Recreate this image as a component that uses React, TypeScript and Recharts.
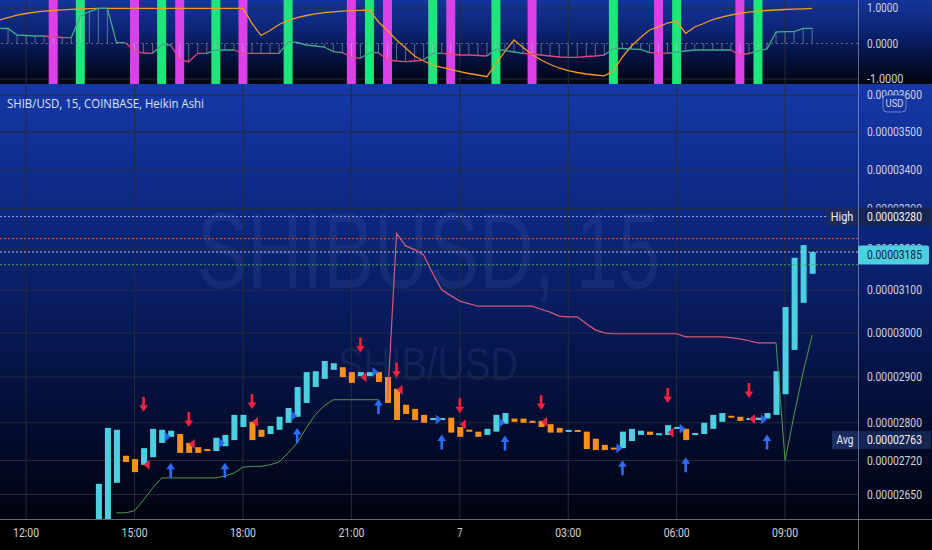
import React from 'react';
import {
  ComposedChart, Bar, Line, Scatter, XAxis, YAxis, CartesianGrid, ReferenceLine, Cell,
} from 'recharts';

// bar index 0 = 14:00 (15 minute bars)
const TIME_TICKS = [-8, 4, 16, 28, 40, 52, 64, 76];
const TIME_LABELS = ['12:00', '15:00', '18:00', '21:00', '7', '03:00', '06:00', '09:00'];

// price in 1e-8 USD
const PRICE_TICKS = [3600, 3500, 3400, 3300, 3200, 3100, 3000, 2900, 2800, 2720, 2650];
const MARK_PRICES = [3280, 3185, 2763];
const MARK_TAGS = ['High', '', 'Avg'];
const LEVEL_PRICES = [3280, 3225, 3192, 3161];
const LEVEL_COLORS = ['#8ea3e2', '#d9553a', '#b6c6f2', '#3fae5a'];

// Heikin Ashi bodies, bars 0..79
const HA_OPEN = [
  2590, 2590, 2674, 2730, 2723, 2711, 2727, 2757, 2770, 2776,
  2757, 2748, 2743, 2740, 2750, 2763, 2791, 2802, 2785, 2776,
  2785, 2800, 2813, 2843, 2878, 2896, 2916, 2922, 2911, 2902,
  2902, 2911, 2900, 2874, 2839, 2830, 2817, 2807, 2807, 2811,
  2791, 2784, 2781, 2774, 2781, 2798, 2809, 2809, 2804, 2804,
  2797, 2789, 2781, 2784, 2781, 2766, 2753, 2746, 2746, 2761,
  2774, 2781, 2774, 2774, 2787, 2787, 2775, 2776, 2787, 2802,
  2814, 2813, 2807, 2806, 2809, 2817, 2862, 2961, 3070, 3139,
];
const HA_CLOSE = [
  2672, 2789, 2785, 2717, 2696, 2746, 2787, 2785, 2783, 2736,
  2736, 2736, 2741, 2768, 2774, 2817, 2817, 2763, 2770, 2793,
  2813, 2832, 2878, 2911, 2913, 2936, 2931, 2900, 2887, 2911,
  2911, 2889, 2843, 2806, 2819, 2806, 2800, 2809, 2809, 2779,
  2770, 2782, 2770, 2787, 2817, 2821, 2802, 2800, 2800, 2791,
  2779, 2779, 2784, 2781, 2744, 2742, 2742, 2744, 2781, 2787,
  2783, 2774, 2777, 2795, 2791, 2763, 2777, 2800, 2817, 2821,
  2812, 2804, 2809, 2811, 2821, 2913, 3060, 3178, 3209, 3192,
];

// trailing stop line
const SUPPORT_FROM = 2;
const SUPPORT = [
  2613, 2613, 2617, 2639, 2663, 2684, 2684, 2684, 2684, 2684,
  2684, 2684, 2688, 2694, 2706, 2708, 2708, 2711, 2717, 2736,
  2757, 2789, 2817, 2837, 2850, 2850, 2850, 2850, 2850, 2850,
];
const RESIST_FROM = 32;
const RESIST = [
  2850, 3238, 3207, 3198, 3185, 3140, 3101, 3087, 3074, 3068,
  3062, 3062, 3062, 3062, 3062, 3062, 3062, 3055, 3048, 3039,
  3037, 3037, 3021, 3007, 3000, 2998, 2998, 2998, 2998, 2998,
  2998, 2998, 2998, 2991, 2991, 2991, 2991, 2991, 2989, 2986,
  2982, 2977, 2977, 2977,
];
const SUPPORT2_FROM = 75;
const SUPPORT2 = [2977, 2720, 2817, 2911, 2995];

// signals
const SELL_T = [5, 10, 17, 29, 33, 40, 49, 63, 72];
const SELL_ARROW = [2840, 2807, 2846, 2972, 2915, 2837, 2844, 2859, 2870];
const SELL_MARK = [2711, 2755, 2802, 2900, 2872, 2797, 2802, 2779, 2808];
const BUY_T = [8, 14, 22, 31, 38, 45, 58, 65, 74];
const BUY_ARROW = [2700, 2700, 2773, 2835, 2759, 2757, 2705, 2711, 2759];
const BUY_MARK = [2770, 2757, 2815, 2911, 2807, 2800, 2746, 2787, 2807];

// oscillator pane, bars -11..79
const OSC_FROM = -11;
const OSC = [
  0.428, 0.423, 0.239, 0.225, 0.211, 0.211, 0.183, 0.169, 0.163, 0.775,
  0.901, 0.992, 0.992, 0.023, 0.023, -0.211, -0.268, -0.276, -0.042, -0.042,
  -0.465, -0.513, -0.276, -0.276, -0.183, -0.183, -0.183, -0.276, -0.276, -0.276,
  -0.276, -0.276, 0.051, 0.028, -0.042, -0.070, -0.099, -0.231, -0.259, -0.380,
  -0.417, -0.259, -0.259, -0.465, -0.493, -0.513, -0.493, -0.465, -0.276, -0.276,
  -0.296, -0.324, -0.324, -0.338, -0.352, -0.163, -0.197, -0.239, -0.276, -0.296,
  -0.324, -0.352, -0.380, -0.389, -0.389, -0.366, -0.352, -0.324, -0.135, -0.141,
  -0.155, -0.163, -0.259, -0.268, -0.276, -0.239, -0.211, -0.183, -0.183, -0.183,
  -0.183, -0.183, -0.324, -0.282, -0.211, -0.155, 0.324, 0.332, 0.332, 0.428,
  0.428,
];
const TREND = [
  0.656, 0.732, 0.797, 0.845, 0.882, 0.910, 0.930, 0.946, 0.961, 0.972,
  0.983, 0.989, 0.992, 0.992, 0.992, 0.992, 0.992, 0.992, 0.992, 0.992,
  0.992, 0.992, 0.992, 0.992, 0.992, 0.992, 0.992, 0.992, 0.566, 0.225,
  0.366, 0.535, 0.654, 0.732, 0.789, 0.837, 0.870, 0.893, 0.910, 0.924,
  0.935, 0.944, 0.606, 0.366, 0.099, -0.127, -0.352, -0.493, -0.600, -0.670,
  -0.732, -0.794, -0.845, -0.887, -0.935, -0.577, -0.220, 0.099, -0.113, -0.310,
  -0.465, -0.592, -0.690, -0.761, -0.817, -0.859, -0.887, -0.910, -0.769, -0.380,
  -0.070, 0.166, 0.380, 0.470, 0.577, 0.634, 0.287, 0.465, 0.563, 0.676,
  0.746, 0.803, 0.851, 0.882, 0.910, 0.930, 0.944, 0.958, 0.966, 0.977,
  0.992,
];
const MAGENTA_T = [-5, 4, 9, 16, 28, 32, 39, 48, 62, 71];
const GREEN_T = [-2, 7, 13, 21, 30, 37, 44, 57, 64, 73];

const W = 932;
const TOP_H = 84;
const MAIN_H = 466;
const AXIS_W = 74;
const X_DOMAIN = [-10.89, 84.07];
const PRICE_DOMAIN = [2600.7, 3631.3];
const TOP_DOMAIN = [-1.1408, 1.2254];

const CYAN = '#4ccfe0';
const ORANGE = '#f7901c';
const GRID = '#272c3a';
const AXIS_TEXT = '#d1d4dc';
const AXIS_FONT = 'Roboto, sans-serif';

const fmtPrice = (v: number) => (v * 1e-8).toFixed(8);

const mainData = HA_OPEN.map((o, i) => {
  const c = HA_CLOSE[i];
  let support: number | null = null;
  if (i >= SUPPORT_FROM && i < SUPPORT_FROM + SUPPORT.length) support = SUPPORT[i - SUPPORT_FROM];
  if (i >= SUPPORT2_FROM && i < SUPPORT2_FROM + SUPPORT2.length) support = SUPPORT2[i - SUPPORT2_FROM];
  const resist = i >= RESIST_FROM && i < RESIST_FROM + RESIST.length ? RESIST[i - RESIST_FROM] : null;
  return { t: i, body: [Math.min(o, c), Math.max(o, c)], up: c >= o, support, resist };
});

const sellArrows = SELL_T.map((t, i) => ({ t, p: SELL_ARROW[i] }));
const sellMarks = SELL_T.map((t, i) => ({ t, p: SELL_MARK[i] }));
const buyArrows = BUY_T.map((t, i) => ({ t, p: BUY_ARROW[i] }));
const buyMarks = BUY_T.map((t, i) => ({ t, p: BUY_MARK[i] }));

// regime of the oscillator colour: pink after a magenta signal, green after a green one
const regime = OSC.map((_, i) => {
  const t = i + OSC_FROM;
  const lastM = Math.max(-99, ...MAGENTA_T.filter((m) => m <= t));
  const lastG = Math.max(-98, ...GREEN_T.filter((g) => g <= t));
  return lastM > lastG ? 'p' : 'g';
});

const topData = OSC.map((v, i) => {
  const t = i + OSC_FROM;
  const isM = MAGENTA_T.includes(t);
  const isG = GREEN_T.includes(t);
  const g = regime[i] === 'g' || regime[i + 1] === 'g';
  const p = regime[i] === 'p' || regime[i + 1] === 'p';
  return {
    t,
    osc: v,
    trend: TREND[i],
    sig: isM || isG ? [-2, 2] : null,
    sigColor: isM ? '#dd3fe8' : '#1ee67a',
    oscG: g ? v : null,
    oscP: p ? v : null,
  };
});

// narrow axis lettering, as in the reference
const NarrowText = ({ x, y, children, anchor = 'start', fill = AXIS_TEXT, per = 5.3 }: any) => (
  <text x={x} y={y} fill={fill} fontSize={12} fontFamily={AXIS_FONT} textAnchor={anchor}
    textLength={String(children).length * per} lengthAdjust="spacingAndGlyphs">{children}</text>
);

const Candle = (props: any) => {
  const { x, y, width, height } = props;
  const up = props.payload ? props.payload.up : props.up;
  const h = Math.max(height, 2);
  return <rect x={x} y={y - (h - height) / 2} width={width} height={h} fill={up ? CYAN : ORANGE} />;
};

const DownArrow = (props: any) => {
  const { cx, cy } = props;
  const d = `M${cx - 1.3},${cy - 7.5} H${cx + 1.3} V${cy + 1} H${cx + 4.3} L${cx},${cy + 7.5} L${cx - 4.3},${cy + 1} H${cx - 1.3} Z`;
  return <path d={d} fill="#f2223f" />;
};

const UpArrow = (props: any) => {
  const { cx, cy } = props;
  const d = `M${cx - 1.3},${cy + 7.5} H${cx + 1.3} V${cy - 1} H${cx + 4.3} L${cx},${cy - 7.5} L${cx - 4.3},${cy - 1} H${cx - 1.3} Z`;
  return <path d={d} fill="#2d6cf5" />;
};

const LeftTri = (props: any) => {
  const { cx, cy } = props;
  return <path d={`M${cx},${cy} L${cx + 6},${cy - 5} L${cx + 6},${cy + 5} Z`} fill="#e8244a" />;
};

const RightTri = (props: any) => {
  const { cx, cy } = props;
  return <path d={`M${cx},${cy} L${cx - 6},${cy - 5} L${cx - 6},${cy + 5} Z`} fill="#2b66ee" />;
};

const TimeTick = (props: any) => {
  const { x, y, payload } = props;
  const label = TIME_LABELS[TIME_TICKS.indexOf(payload.value)];
  return <NarrowText x={x} y={y + 10} anchor="middle" per={5.2}>{label}</NarrowText>;
};

const OscTick = (props: any) => {
  const { x, y, payload } = props;
  return <NarrowText x={x} y={y + 4} per={5.2}>{payload.value.toFixed(4)}</NarrowText>;
};

const PriceTick = (props: any) => {
  const { x, y, payload } = props;
  const v = payload.value;
  const label = fmtPrice(v);
  const k = MARK_PRICES.indexOf(v);
  const ax = x - 9;
  if (k < 0) {
    return <NarrowText x={x} y={y + 4} per={5.5}>{label}</NarrowText>;
  }
  const tag = MARK_TAGS[k];
  if (!tag) {
    return (
      <g>
        <rect x={ax} y={y - 9.5} width={71} height={19} rx={2} fill={CYAN} />
        <NarrowText x={x} y={y + 4} per={5.5} fill="#0c1c44">{label}</NarrowText>
      </g>
    );
  }
  const tw = tag.length * 6 + 8;
  return (
    <g>
      <rect x={ax - tw} y={y - 9} width={tw} height={18} fill="#1b2b5e" />
      <NarrowText x={ax - tw / 2} y={y + 4} anchor="middle" per={5.6} fill="#eef1f8">{tag}</NarrowText>
      <rect x={ax} y={y - 9} width={73} height={18} fill="#162551" />
      <NarrowText x={x} y={y + 4} per={5.5} fill="#f4f6fb">{label}</NarrowText>
    </g>
  );
};

export default function App() {
  return (
    <div style={{ position: 'absolute', left: 0, top: 0, width: W, height: 550, background: '#000', overflow: 'hidden' }}>
      <div style={{
        position: 'absolute', left: 0, top: 0, width: W, height: TOP_H,
        background: 'linear-gradient(to bottom, #14359a 0%, #0c2576 35%, #051345 65%, #01040f 100%)',
      }} />
      <div style={{
        position: 'absolute', left: 0, top: TOP_H, width: W, height: 435,
        background: 'linear-gradient(to bottom, #1639a8 0%, #0f2d8e 20%, #0a2272 40%, #06174f 60%, #030c2e 80%, #00030e 100%)',
      }} />
      <svg width={W} height={550} style={{ position: 'absolute', left: 0, top: 0 }}>
        <text x={428.5} y={288} fontSize={108} textAnchor="middle" textLength={463} lengthAdjust="spacingAndGlyphs"
          fontFamily="'Liberation Sans', sans-serif" fill="rgba(150,170,235,0.09)">SHIBUSD, 15</text>
        <text x={428} y={380} fontSize={46} textAnchor="middle" textLength={180} lengthAdjust="spacingAndGlyphs"
          fontFamily="'Liberation Sans', sans-serif" fill="rgba(150,170,235,0.09)">SHIB/USD</text>
      </svg>

      <div style={{ position: 'absolute', left: 0, top: 0 }}>
        <ComposedChart width={W} height={TOP_H} data={topData} margin={{ top: 0, right: 0, bottom: 0, left: 0 }}>
          <CartesianGrid stroke={GRID} horizontalValues={[1, -1]} verticalValues={TIME_TICKS} />
          <XAxis dataKey="t" type="number" domain={X_DOMAIN} allowDataOverflow hide ticks={TIME_TICKS} />
          <XAxis xAxisId="h" dataKey="t" type="number" domain={X_DOMAIN} allowDataOverflow hide />
          <YAxis orientation="right" width={AXIS_W} domain={TOP_DOMAIN} allowDataOverflow ticks={[1, 0, -1]}
            interval={0} axisLine={false} tickLine={false} tickSize={0} tickMargin={9} tick={<OscTick />} />
          <ReferenceLine y={0} stroke="#8a8e9c" strokeDasharray="2 3" strokeOpacity={0.7} />
          <Bar dataKey="sig" barSize={9} isAnimationActive={false}>
            {topData.map((d) => <Cell key={d.t} fill={d.sigColor} />)}
          </Bar>
          <Bar xAxisId="h" dataKey="osc" barSize={1} fill="rgba(200,205,218,0.45)" isAnimationActive={false} />
          <Line dataKey="trend" stroke="#f59a22" strokeWidth={1.3} dot={false} isAnimationActive={false} />
          <Line dataKey="oscG" stroke="#43a98a" strokeWidth={1.3} dot={false} isAnimationActive={false} />
          <Line dataKey="oscP" stroke="#e8457f" strokeWidth={1.3} dot={false} isAnimationActive={false} />
        </ComposedChart>
      </div>

      <div style={{ position: 'absolute', left: 0, top: TOP_H }}>
        <ComposedChart width={W} height={MAIN_H} data={mainData} margin={{ top: 0, right: 0, bottom: 0, left: 0 }}>
          <CartesianGrid stroke={GRID} horizontalValues={PRICE_TICKS} verticalValues={TIME_TICKS} />
          <XAxis dataKey="t" type="number" domain={X_DOMAIN} allowDataOverflow ticks={TIME_TICKS} interval={0}
            height={31} axisLine={false} tickLine={false} tickSize={0} tickMargin={8} tick={<TimeTick />} />
          <YAxis orientation="right" width={AXIS_W} scale="log" domain={PRICE_DOMAIN} allowDataOverflow
            ticks={[...PRICE_TICKS, ...MARK_PRICES]} interval={0} axisLine={false} tickLine={false}
            tickSize={0} tickMargin={9} tick={<PriceTick />} />
          {LEVEL_PRICES.map((p, i) => (
            <ReferenceLine key={p} y={p} stroke={LEVEL_COLORS[i]} strokeDasharray="2 2" strokeWidth={1} />
          ))}
          <Bar dataKey="body" barSize={6} shape={<Candle />} isAnimationActive={false} />
          <Line dataKey="support" stroke="#4f9a4e" strokeWidth={1} dot={false} isAnimationActive={false} />
          <Line dataKey="resist" stroke="#d35a7e" strokeWidth={1.2} dot={false} isAnimationActive={false} />
          <Scatter data={sellMarks} dataKey="p" shape={<LeftTri />} isAnimationActive={false} />
          <Scatter data={buyMarks} dataKey="p" shape={<RightTri />} isAnimationActive={false} />
          <Scatter data={sellArrows} dataKey="p" shape={<DownArrow />} isAnimationActive={false} />
          <Scatter data={buyArrows} dataKey="p" shape={<UpArrow />} isAnimationActive={false} />
        </ComposedChart>
      </div>

      <svg width={W} height={550} style={{ position: 'absolute', left: 0, top: 0, pointerEvents: 'none' }}>
        <line x1={858.5} y1={0} x2={858.5} y2={550} stroke="rgba(170,180,210,0.55)" />
        <line x1={0} y1={519.5} x2={W} y2={519.5} stroke="rgba(170,175,190,0.6)" />
        <text x={7} y={108} fontSize={12.5} fill="#dfe3ee" fontFamily="'Open Sans', sans-serif"
          textLength={197} lengthAdjust="spacingAndGlyphs">SHIB/USD, 15, COINBASE, Heikin Ashi</text>
        <rect x={883} y={95} width={23} height={17} rx={4} fill="#16369c" stroke="rgba(170,190,240,0.55)" />
        <text x={894.5} y={107} fontSize={11} textAnchor="middle" fill="#d3daf0" fontFamily={AXIS_FONT}
          textLength={18} lengthAdjust="spacingAndGlyphs">USD</text>
      </svg>
    </div>
  );
}
